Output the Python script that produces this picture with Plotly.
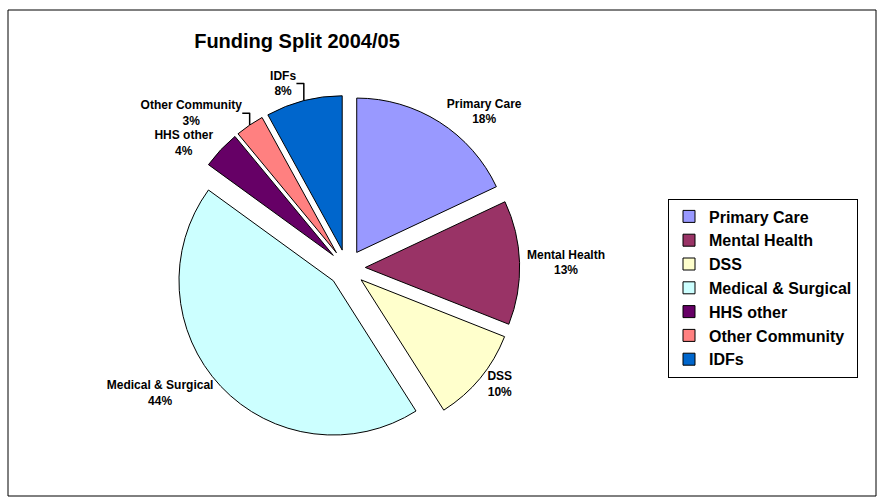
import plotly.graph_objects as go

labels = ["Primary Care", "Mental Health", "DSS", "Medical & Surgical",
          "HHS other", "Other Community", "IDFs"]
values = [18, 13, 10, 44, 4, 3, 8]
colors = ["#9999FF", "#993366", "#FFFFCC", "#CCFFFF", "#660066", "#FF8080", "#0066CC"]

FONT = "Arial, 'Liberation Sans', sans-serif"

fig = go.Figure(go.Pie(
    labels=labels,
    values=values,
    sort=False,
    direction="clockwise",
    rotation=0,
    pull=[0.12] * len(values),
    marker=dict(colors=colors, line=dict(color="black", width=1)),
    textposition="outside",
    texttemplate="<b>%{label}</b><br><b>%{percent:.0%}</b>",
    textfont=dict(family=FONT, size=12, color="black"),
    domain=dict(x=[0.17, 0.62], y=[0.12, 0.81]),
    showlegend=True,
))

fig.update_layout(
    width=878, height=501,
    margin=dict(l=0, r=0, t=0, b=0),
    paper_bgcolor="white",
    font=dict(family=FONT, color="black"),
    title=dict(text="<b>Funding Split 2004/05</b>", x=297/878, xanchor="center",
               y=1 - 41/501, yanchor="middle",
               font=dict(family=FONT, size=20, color="black")),
    legend=dict(x=668/878, xanchor="left", y=1 - 288/501, yanchor="middle",
                bordercolor="black", borderwidth=1, bgcolor="white",
                font=dict(family=FONT, size=16, color="black", weight="bold"),
                traceorder="normal"),
    shapes=[dict(type="rect", xref="paper", yref="paper",
                 x0=8/878, x1=876/878, y0=1 - 496/501, y1=1 - 10/501,
                 line=dict(color="black", width=1))],
)

fig.write_html("out.html")
